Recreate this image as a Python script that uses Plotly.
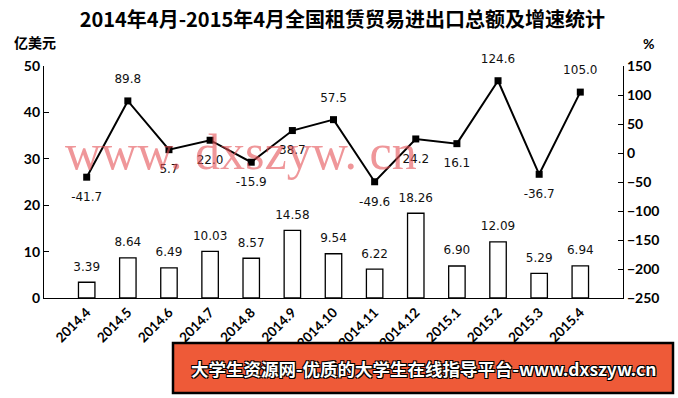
import plotly.graph_objects as go

months = ["2014.4", "2014.5", "2014.6", "2014.7", "2014.8", "2014.9", "2014.10",
          "2014.11", "2014.12", "2015.1", "2015.2", "2015.3", "2015.4"]
totals = [3.39, 8.64, 6.49, 10.03, 8.57, 14.58, 9.54, 6.22, 18.26, 6.90, 12.09, 5.29, 6.94]
growth = [-41.7, 89.8, 5.7, 22.0, -15.9, 38.7, 57.5, -49.6, 24.2, 16.1, 124.6, -36.7, 105.0]
growth_pos = ["bottom center", "top center", "bottom center", "bottom center", "bottom center",
              "bottom center", "top center", "bottom center", "bottom center", "bottom center",
              "top center", "bottom center", "top center"]

title = "2014年4月-2015年4月全国租赁贸易进出口总额及增速统计"
left_unit = "亿美元"
right_unit = "%"
watermark = "www. dxszyw. cn"
banner = "大学生资源网-优质的大学生在线指导平台-www.dxszyw.cn"

label_font = dict(family="DejaVu Sans", size=12, color="#111")
tick_font = dict(family="Lato", size=14, color="#000", weight="bold")

fig = go.Figure()

fig.add_trace(go.Bar(
    x=months, y=totals, width=0.4,
    marker=dict(color="white", line=dict(color="black", width=1.3)),
    yaxis="y", showlegend=False, hoverinfo="skip",
))
fig.add_trace(go.Scatter(
    x=months, y=totals, mode="markers+text",
    text=[f"{v:.2f}" for v in totals], textposition="top center",
    textfont=label_font,
    marker=dict(size=12, opacity=0),
    yaxis="y", showlegend=False, hoverinfo="skip", cliponaxis=False,
))
fig.add_trace(go.Scatter(
    x=months, y=growth, mode="lines+markers",
    line=dict(color="black", width=2),
    marker=dict(symbol="square", size=7, color="black"),
    yaxis="y2", showlegend=False, hoverinfo="skip",
))
fig.add_trace(go.Scatter(
    x=months, y=growth, mode="markers+text",
    text=[f"{v:.1f}" for v in growth], textposition=growth_pos,
    textfont=label_font,
    marker=dict(size=22, opacity=0),
    yaxis="y2", showlegend=False, hoverinfo="skip", cliponaxis=False,
))

fig.update_layout(
    width=678, height=398,
    margin=dict(l=44, r=55, t=66, b=100),
    paper_bgcolor="white", plot_bgcolor="white",
    title=dict(text=title, x=0.505, xref="container", y=0.95, yref="container",
               xanchor="center", yanchor="middle",
               font=dict(family="Noto Sans CJK SC", size=20, color="#000", weight="bold")),
    xaxis=dict(showline=True, linecolor="black", linewidth=1.3, ticks="",
               tickangle=-45, tickfont=dict(family="Lato", size=13.5, color="#000", weight="bold"),
               showgrid=False, zeroline=False),
    yaxis=dict(range=[0, 50], dtick=10, showline=True, linecolor="black", linewidth=1.3,
               ticks="inside", ticklen=5, tickcolor="black", tickfont=tick_font,
               showgrid=False, zeroline=False),
    yaxis2=dict(range=[-250, 150], dtick=50, overlaying="y", side="right",
                showline=True, linecolor="black", linewidth=1.3,
                ticks="inside", ticklen=5, tickcolor="black", tickfont=tick_font,
                showgrid=False, zeroline=False),
    bargap=0.6,
)

fig.add_annotation(text=left_unit, xref="paper", yref="paper", x=(35 - 44) / 579,
                   y=(298 - 42) / 232, showarrow=False, xanchor="center", yanchor="middle",
                   font=dict(family="Noto Sans CJK SC", size=14, color="#000", weight="bold"))
fig.add_annotation(text=right_unit, xref="paper", yref="paper", x=(648 - 44) / 579,
                   y=(298 - 44) / 232, showarrow=False, xanchor="center", yanchor="middle",
                   font=dict(family="Lato", size=14, color="#000", weight="bold"))
fig.add_annotation(text=watermark, xref="paper", yref="paper", x=(241 - 44) / 579,
                   y=(298 - 152) / 232, showarrow=False, xanchor="center", yanchor="middle",
                   font=dict(family="Liberation Serif", size=50, color="rgba(228,80,85,0.6)"))

fig.add_shape(type="rect", xref="paper", yref="paper",
              x0=(173 - 44) / 579, x1=(673 - 44) / 579,
              y0=(298 - 343) / 232, y1=(298 - 393) / 232,
              fillcolor="#EE5A38", line=dict(color="black", width=2.5), layer="above")
fig.add_annotation(text=banner, xref="paper", yref="paper",
                   x=(424 - 44) / 579, y=(298 - 368) / 232, showarrow=False,
                   xanchor="center", yanchor="middle",
                   font=dict(family="Noto Sans CJK SC", size=17.5, color="white", weight="bold",
                             shadow="1px 1px 0 #000, -1px -1px 0 #000, 1px -1px 0 #000, -1px 1px 0 #000"))

fig.write_html("out.html")
